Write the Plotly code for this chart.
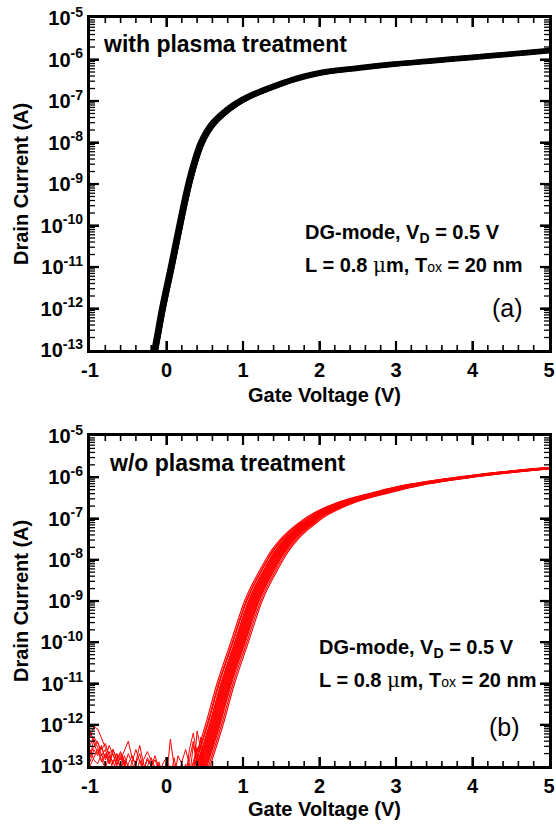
import numpy as np
import plotly.graph_objects as go

# ---------------- data (log10 of drain current in A) ----------------
top_v = [-0.35, -0.15, -0.05, 0.065, 0.22, 0.30, 0.38, 0.45, 0.53, 0.62, 0.75, 0.87, 1.0, 1.13, 1.40, 1.66, 2.0, 2.5, 3.0, 3.5, 4.0, 4.5, 5.0, 5.2]
top_logi = [-14.8, -13.0, -12.0, -11.0, -9.6, -8.95, -8.42, -8.05, -7.76, -7.53, -7.3, -7.13, -6.98, -6.86, -6.66, -6.49, -6.33, -6.21, -6.11, -6.03, -5.95, -5.87, -5.79, -5.76]
top_dv = [-0.035, -0.03, -0.026, -0.022, -0.018, -0.014, -0.01, -0.007, -0.004, 0.0,
          0.003, 0.006, 0.009, 0.012, 0.016, 0.02, 0.024, 0.028, 0.032, 0.036]
top_dlog = [0.05, -0.04, 0.03, 0.04, -0.03, 0.02, -0.04, 0.03, 0.0, -0.02,
            0.02, -0.05, 0.04, -0.03, 0.01, 0.03, -0.03, 0.02, -0.02, 0.02]

bot_v = [0.30, 0.45, 0.62, 0.77, 0.95, 1.13, 1.22, 1.31, 1.40, 1.48, 1.60, 1.71, 1.85, 2.0, 2.36, 2.79, 3.22, 4.1, 5.0, 5.3]
bot_logi = [-13.8, -13.0, -12.0, -11.0, -10.0, -9.0, -8.63, -8.32, -8.02, -7.78, -7.5, -7.3, -7.09, -6.9, -6.6, -6.38, -6.19, -5.95, -5.78, -5.74]
bot_dv = [-0.11, -0.09, -0.08, -0.06, -0.05, -0.04, -0.03, -0.02, -0.01, 0.0,
          0.01, 0.02, 0.03, 0.04, 0.05, 0.06, 0.07, 0.08, 0.10, 0.12]

noise_v = [-1.00, -0.95, -0.90, -0.85, -0.80, -0.75, -0.70, -0.65, -0.60, -0.55, -0.50, -0.45,
           -0.40, -0.35, -0.30, -0.25, -0.20, -0.15, -0.10, -0.05, 0.00, 0.05, 0.10, 0.15,
           0.20, 0.25, 0.30, 0.35, 0.40, 0.45, 0.50]
noise_1 = [-12.30, -12.05, -12.10, -12.35, -12.55, -12.70, -12.60, -12.85, -12.70, -12.90, -13.20, -13.30, -13.30, -13.30, -13.30, -13.30, -13.30, -13.30, -13.30, -13.30, -13.30, -13.30, -13.30, -13.30, -13.30, -13.30, -13.30, -13.30, -13.30, -13.30, -13.30]
noise_2 = [-12.50, -12.30, -12.45, -12.60, -12.45, -12.75, -12.90, -12.70, -12.85, -12.60, -12.40, -12.80, -12.95, -12.70, -13.10, -12.85, -13.00, -13.20, -13.30, -13.30, -13.30, -13.30, -13.30, -13.30, -13.30, -13.30, -13.30, -13.30, -13.30, -13.30, -13.30]
noise_3 = [-12.70, -12.55, -12.40, -12.75, -12.60, -12.90, -12.70, -13.00, -12.75, -12.95, -13.20, -12.90, -12.60, -12.90, -13.10, -12.80, -13.00, -12.75, -13.05, -13.20, -13.30, -12.35, -13.00, -13.30, -13.30, -13.30, -13.30, -13.30, -13.30, -13.30, -13.30]
noise_4 = [-12.90, -12.60, -12.75, -12.50, -12.85, -12.65, -12.95, -12.70, -13.10, -12.85, -13.00, -13.20, -12.90, -12.50, -12.95, -13.20, -13.30, -13.30, -13.30, -12.95, -12.80, -13.10, -13.30, -12.75, -12.95, -13.30, -12.60, -12.20, -12.70, -13.30, -13.30]
noise_5 = [-12.15, -12.40, -12.70, -12.55, -12.80, -12.50, -12.75, -12.95, -12.80, -13.00, -12.70, -12.95, -13.15, -13.30, -12.85, -12.65, -12.90, -13.10, -12.90, -13.20, -13.30, -13.30, -13.30, -13.30, -12.90, -12.60, -12.95, -13.30, -12.15, -12.60, -13.30]
noise_6 = [-13.00, -12.80, -12.60, -12.85, -13.05, -12.75, -13.10, -12.85, -12.65, -12.90, -13.20, -13.30, -13.30, -13.30, -13.30, -13.30, -13.00, -12.85, -13.10, -13.30, -12.90, -13.30, -13.30, -13.30, -13.30, -12.95, -13.30, -12.50, -12.90, -12.30, -13.30]
noise_7 = [-12.60, -12.85, -12.95, -12.70, -13.00, -13.20, -12.90, -13.10, -13.30, -13.30, -12.95, -12.75, -13.05, -13.30, -13.30, -13.00, -12.80, -13.05, -13.30, -13.30, -13.30, -13.30, -12.80, -13.30, -13.30, -13.30, -12.85, -12.40, -12.95, -12.70, -13.30]
noise_8 = [-12.80, -12.35, -12.55, -12.90, -12.70, -12.95, -12.60, -12.85, -13.05, -12.75, -13.00, -13.30, -13.30, -12.85, -13.10, -13.30, -13.30, -13.30, -12.95, -13.30, -13.30, -13.30, -13.30, -13.30, -13.30, -13.30, -13.30, -12.90, -12.55, -12.95, -13.30]
noise_sets = [noise_1, noise_2, noise_3, noise_4, noise_5, noise_6, noise_7, noise_8]

x_ticks = [-1, 0, 1, 2, 3, 4, 5]
x_minor = [-0.8, -0.6, -0.4, -0.2, 0.2, 0.4, 0.6, 0.8, 1.2, 1.4, 1.6, 1.8, 2.2, 2.4, 2.6, 2.8,
           3.2, 3.4, 3.6, 3.8, 4.2, 4.4, 4.6, 4.8]
y_exps = [-13, -12, -11, -10, -9, -8, -7, -6, -5]
y_ticktext = ["10<sup>%d</sup>" % e for e in y_exps]

W, H = 556, 831
def px(x):
    return x / W
def py(y):
    return 1 - y / H

PLOT_L, PLOT_R = 90, 549
PANELS = [(18, 350), (436, 766)]
X_RANGE = [-1, 5]
Y_RANGE = [-13, -5]

fig = go.Figure()

for dv, dl in zip(top_dv, top_dlog):
    fig.add_trace(go.Scatter(
        x=np.array(top_v) + dv, y=10 ** (np.array(top_logi) + dl),
        mode="lines", line=dict(color="black", width=1.3, shape="spline"),
        xaxis="x", yaxis="y", showlegend=False, hoverinfo="skip"))

for n in noise_sets:
    fig.add_trace(go.Scatter(
        x=noise_v, y=10 ** np.array(n),
        mode="lines", line=dict(color="#ff0000", width=1),
        xaxis="x2", yaxis="y2", showlegend=False, hoverinfo="skip"))

for dv in bot_dv:
    fig.add_trace(go.Scatter(
        x=np.array(bot_v) + dv, y=10 ** np.array(bot_logi),
        mode="lines", line=dict(color="#ff0000", width=1.1, shape="spline"),
        xaxis="x2", yaxis="y2", showlegend=False, hoverinfo="skip"))

# inside tick marks on all four frame sides (thin line traces in axis units)
x_upp = (X_RANGE[1] - X_RANGE[0]) / (PLOT_R - PLOT_L)
for i, (ytop, ybot) in enumerate(PANELS):
    xa, ya = ("x", "y") if i == 0 else ("x2", "y2")
    y_dpp = (Y_RANGE[1] - Y_RANGE[0]) / (ybot - ytop)
    for vals, ln, w in [(x_ticks[1:-1], 9, 2.2), (x_minor, 5, 1.6)]:
        xs, ys = [], []
        for v in vals:
            xs += [v, v, None, v, v, None]
            ys += [10.0 ** Y_RANGE[0], 10.0 ** (Y_RANGE[0] + ln * y_dpp), None,
                   10.0 ** Y_RANGE[1], 10.0 ** (Y_RANGE[1] - ln * y_dpp), None]
        fig.add_trace(go.Scatter(x=xs, y=ys, mode="lines", line=dict(color="black", width=w),
                                 connectgaps=False, cliponaxis=False,
                                 xaxis=xa, yaxis=ya, showlegend=False, hoverinfo="skip"))
    y_major = [10.0 ** e for e in y_exps[1:-1]]
    y_minor = [m * 10.0 ** e for e in y_exps[:-1] for m in range(2, 10)]
    for vals, ln, w in [(y_major, 9, 2.2), (y_minor, 5, 1.3)]:
        xs, ys = [], []
        for v in vals:
            xs += [X_RANGE[0], X_RANGE[0] + ln * x_upp, None, X_RANGE[1], X_RANGE[1] - ln * x_upp, None]
            ys += [v, v, None, v, v, None]
        fig.add_trace(go.Scatter(x=xs, y=ys, mode="lines", line=dict(color="black", width=w),
                                 connectgaps=False, cliponaxis=False,
                                 xaxis=xa, yaxis=ya, showlegend=False, hoverinfo="skip"))

tickfont = dict(family="Liberation Sans, Arial, sans-serif", size=20, color="black", weight="bold")

def xaxis_cfg(yname):
    return dict(domain=[px(PLOT_L), px(PLOT_R)], anchor=yname, range=X_RANGE, automargin=False,
                tickmode="array", tickvals=x_ticks, ticktext=[str(t) for t in x_ticks],
                showline=True, linecolor="black", linewidth=3, mirror="ticks",
                ticks="inside", ticklen=9, tickwidth=2, tickcolor="black",
                showgrid=False, zeroline=False, tickfont=tickfont)

def yaxis_cfg(xname, dom):
    return dict(domain=dom, anchor=xname, type="log", range=Y_RANGE, automargin=False,
                tickmode="array", tickvals=[10.0 ** e for e in y_exps], ticktext=y_ticktext,
                showline=True, linecolor="black", linewidth=3, mirror="ticks",
                ticks="inside", ticklen=9, tickwidth=2, tickcolor="black",
                showgrid=False, zeroline=False, tickfont=tickfont)

fig.update_layout(
    template="none",
    width=W, height=H, margin=dict(l=0, r=0, t=0, b=0, autoexpand=False),
    paper_bgcolor="white", plot_bgcolor="white", showlegend=False,
    xaxis=xaxis_cfg("y"),
    yaxis=yaxis_cfg("x", [py(PANELS[0][1]), py(PANELS[0][0])]),
    xaxis2=xaxis_cfg("y2"),
    yaxis2=yaxis_cfg("x2", [py(PANELS[1][1]), py(PANELS[1][0])]),
)

F = "Liberation Sans, Arial, sans-serif"
mu = "<span style='font-family:DejaVu Serif;font-weight:normal'>μ</span>"
tox = "T<span style='font-size:14px;font-weight:normal'>ox</span>"

def ann(text, x, y, size, xanchor="left", weight="bold", textangle=0):
    fig.add_annotation(text=text, x=px(x), y=py(y), xref="paper", yref="paper",
                       xanchor=xanchor, yanchor="middle", showarrow=False,
                       textangle=textangle,
                       font=dict(family=F, color="black", size=size, weight=weight))

for (y0, y1, title, tx, ty, d1x, d1y, d2y, lab, labx, laby, xt_y) in [
        (18, 350, "with plasma treatment", 101, 44, 303, 233, 265, "(a)", 525, 308, 395),
        (436, 766, "w/o plasma treatment", 107, 463, 317, 648, 680, "(b)", 522, 727, 809)]:
    ann(title, tx, ty, 23)
    ann("DG-mode, V<sub>D</sub> = 0.5 V", d1x, d1y, 20)
    ann("L = 0.8 " + mu + "m, " + tox + " = 20 nm", d1x, d2y, 20)
    ann(lab, labx, laby, 25, xanchor="right", weight="normal")
    ann("Drain Current (A)", 21, (y0 + y1) / 2, 20, xanchor="center", textangle=-90)
    ann("Gate Voltage (V)", 324, xt_y, 20, xanchor="center")

fig.write_html("out.html")
